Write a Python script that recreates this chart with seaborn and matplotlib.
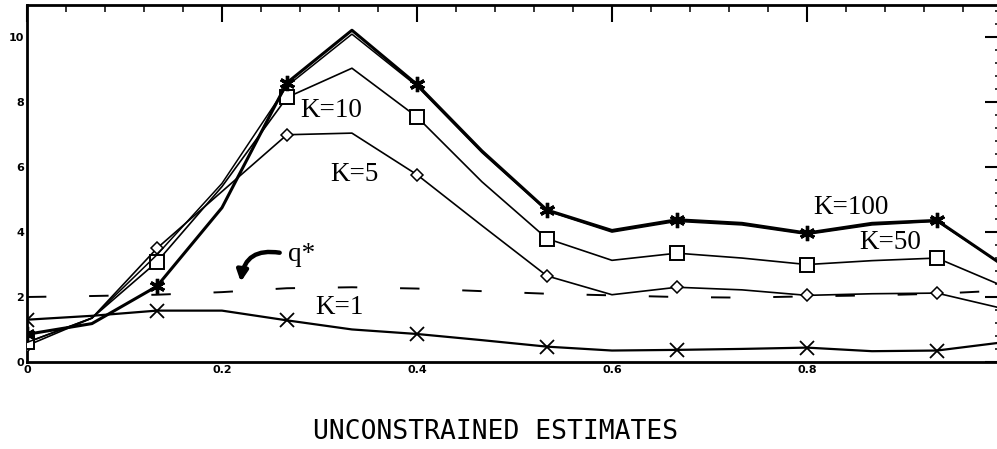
import numpy as np
import pandas as pd
import matplotlib
matplotlib.use("Agg")
import matplotlib.pyplot as plt
from matplotlib.ticker import MultipleLocator
import seaborn as sns

# ---- data ----
x_vals = [k / 15 for k in range(16)]
k1 = [1.30, 1.42, 1.58, 1.58, 1.28, 1.00, 0.86, 0.67, 0.47, 0.35, 0.37, 0.40, 0.44, 0.33, 0.35, 0.60]
k5 = [0.50, 1.35, 3.50, 5.25, 7.00, 7.05, 5.77, 4.20, 2.65, 2.07, 2.30, 2.22, 2.05, 2.10, 2.12, 1.65]
k10 = [0.60, 1.35, 3.08, 5.40, 8.15, 9.05, 7.55, 5.55, 3.80, 3.13, 3.35, 3.20, 3.00, 3.12, 3.20, 2.35]
k50 = [0.60, 1.35, 3.30, 5.50, 8.50, 10.10, 8.50, 6.45, 4.65, 4.00, 4.33, 4.22, 3.93, 4.22, 4.33, 3.00]
k100 = [0.85, 1.18, 2.33, 4.75, 8.60, 10.22, 8.55, 6.50, 4.68, 4.05, 4.38, 4.27, 3.97, 4.27, 4.36, 3.00]
q_star = [2.00, 2.03, 2.07, 2.15, 2.27, 2.30, 2.26, 2.18, 2.10, 2.05, 2.00, 1.98, 2.02, 2.05, 2.10, 2.20]
x_ticks = [0, 0.2, 0.4, 0.6, 0.8, 1.0]
x_tick_labels = ["0", "0.2", "0.4", "0.6", "0.8", "1"]
y_ticks = [0, 2, 4, 6, 8, 10]
y_tick_labels = ["0", "2", "4", "6", "8", "10"]
title = "UNCONSTRAINED ESTIMATES"

series = {"K=1": k1, "K=5": k5, "K=10": k10, "K=50": k50, "K=100": k100, "q*": q_star}
df = pd.concat(
    [pd.DataFrame({"x": x_vals, "y": v, "series": name}) for name, v in series.items()],
    ignore_index=True,
)

sns.set_style("white")
plt.rcParams["font.family"] = ["DejaVu Sans"]

fig = plt.figure(figsize=(9.97, 4.49), dpi=100)
ax = fig.add_axes([0.027, 0.194, 0.978, 0.795])

styles = {
    "K=1": dict(marker="x", markersize=10, markeredgewidth=1.3, lw=1.6),
    "K=5": dict(marker="D", markersize=6, markeredgewidth=1.1, markerfacecolor="white", lw=1.2),
    "K=10": dict(marker="s", markersize=10, markeredgewidth=1.4, markerfacecolor="white", lw=1.2),
    "K=50": dict(marker=None, lw=1.1),
    "K=100": dict(marker=(6, 2, 0), markersize=11, markeredgewidth=2.4, lw=2.2),
}
for name, st in styles.items():
    d = df[df["series"] == name]
    kw = dict(st)
    if kw.get("marker") is not None:
        kw["markevery"] = 2
    sns.lineplot(data=d, x="x", y="y", color="black", ax=ax, legend=False,
                 markeredgecolor="black", zorder=3, **kw)

dq = df[df["series"] == "q*"]
sns.lineplot(data=dq, x="x", y="y", color="black", ax=ax, legend=False,
             lw=1.4, dashes=False, zorder=2)
ax.lines[-1].set_dashes((10, 22))

# labels
lab_font = dict(family="Liberation Serif", fontsize=19.5, color="black", ha="center", va="center")
ax.text(0.312, 7.75, "K=10", **lab_font)
ax.text(0.336, 5.78, "K=5", **lab_font)
ax.text(0.321, 1.68, "K=1", **lab_font)
ax.text(0.845, 4.77, "K=100", **lab_font)
ax.text(0.885, 3.69, "K=50", **lab_font)
ax.text(0.282, 3.3, "q*", **lab_font)
ax.annotate("", xy=(0.219, 2.38), xytext=(0.262, 3.35),
            arrowprops=dict(arrowstyle="-|>", connectionstyle="arc3,rad=0.55",
                            lw=3.2, color="black", mutation_scale=16))

ax.set_xlim(0, 1.0)
ax.set_ylim(0, 11)
ax.set_xticks(x_ticks)
ax.set_xticklabels(x_tick_labels, fontsize=8, fontweight="bold")
ax.set_yticks(y_ticks)
ax.set_yticklabels(y_tick_labels, fontsize=8, fontweight="bold")
ax.xaxis.set_minor_locator(MultipleLocator(0.04))
ax.yaxis.set_minor_locator(MultipleLocator(0.4))
ax.tick_params(which="major", direction="in", length=12, width=1.5,
               top=True, right=True, pad=2, colors="black")
ax.tick_params(which="minor", direction="in", length=5, width=1.3,
               top=True, right=True)
ax.set_xlabel("")
ax.set_ylabel("")
for s in ax.spines.values():
    s.set_linewidth(2)
    s.set_color("black")

fig.text(0.4975, 0.038, title, family="DejaVu Sans Mono", fontsize=19,
         ha="center", va="center", color="black")

fig.savefig("out.png", dpi=100)
